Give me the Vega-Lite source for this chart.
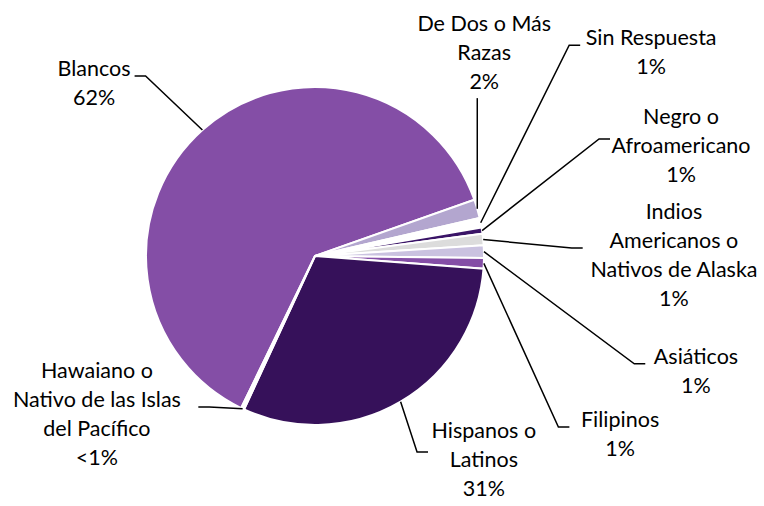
{
  "$schema": "https://vega.github.io/schema/vega-lite/v6.json",
  "width": 630,
  "height": 500,
  "autosize": {"type": "none"},
  "padding": {"left": 0, "top": 6, "right": 134, "bottom": 0},
  "background": "white",
  "config": {"view": {"stroke": null}},
  "data": {
    "values": [
      {"category": "Blancos", "value": 62.4},
      {"category": "De Dos o Más\nRazas", "value": 1.8},
      {"category": "Sin Respuesta", "value": 0.9},
      {"category": "Negro o\nAfroamericano", "value": 0.6},
      {"category": "Indios\nAmericanos o\nNativos de Alaska", "value": 1.1},
      {"category": "Asiáticos", "value": 1.2},
      {"category": "Filipinos", "value": 1.0},
      {"category": "Hispanos o\nLatinos", "value": 30.7},
      {"category": "Hawaiano o\nNativo de las Islas\ndel Pacífico", "value": 0.3}
    ]
  },
  "transform": [
    {"window": [{"op": "row_number", "as": "idx"}, {"op": "sum", "field": "value", "as": "cum"}], "frame": [null, 0]},
    {"joinaggregate": [{"op": "sum", "field": "value", "as": "total"}]},
    {"calculate": "datum.cum / datum.total", "as": "f1"},
    {"calculate": "(datum.cum - datum.value) / datum.total", "as": "f0"},
    {"calculate": "205.9 + 360 * (datum.f0 + datum.f1) / 2", "as": "mid"},
    {"calculate": "datum.value < 0.5 ? '<1%' : format(datum.value / datum.total, '.0%')", "as": "pct"},
    {"calculate": "datum.category + '\\n' + datum.pct", "as": "label"},
    {"calculate": "[307.9, 39.9, 58.9, 73.4, 90.0, 106.9, 120.4, 140.4, 233.9][datum.idx - 1]", "as": "la"},
    {"calculate": "[1.657, 1.561, 2.323, 2.260, 2.124, 2.356, 2.093, 1.567, 1.597][datum.idx - 1]", "as": "ld"},
    {"calculate": "datum.ld * sin(datum.la * PI / 180)", "as": "cx"},
    {"calculate": "datum.ld * cos(datum.la * PI / 180)", "as": "cy"},
    {"calculate": "split(datum.label, '\\n')", "as": "lines"},
    {"calculate": "length(datum.lines)", "as": "n"},
    {"calculate": "max(length(datum.lines[0]), length(datum.lines[1] || ''), length(datum.lines[2] || ''), length(datum.lines[3] || ''))", "as": "maxLen"},
    {"calculate": "datum.maxLen * 0.030", "as": "hw"},
    {"calculate": "datum.n * 0.0858", "as": "hh"},
    {"calculate": "datum.cy + datum.hh", "as": "ty"},
    {"calculate": "sin(datum.mid * PI / 180)", "as": "ex"},
    {"calculate": "cos(datum.mid * PI / 180)", "as": "ey"},
    {"calculate": "abs(datum.ex - datum.cx) < datum.hw", "as": "vert"},
    {"calculate": "datum.vert ? datum.ex : (datum.cx > datum.ex ? datum.cx - datum.hw - 0.03 : datum.cx + datum.hw + 0.03)", "as": "bx"},
    {"calculate": "datum.vert ? datum.cy - datum.hh - 0.006 : datum.cy + 0.047", "as": "by"},
    {"calculate": "datum.vert ? datum.ex : (datum.cx > datum.ex ? datum.bx - 0.065 : datum.bx + 0.065)", "as": "ax"},
    {"calculate": "datum.by", "as": "ay"}
  ],
  "layer": [
    {
      "mark": {"type": "arc", "outerRadius": 169, "stroke": "white", "strokeWidth": 2},
      "encoding": {
        "theta": {"field": "f0", "type": "quantitative", "stack": null, "scale": {"domain": [0, 1], "range": [3.59364, 9.87683]}},
        "theta2": {"field": "f1"},
        "color": {
          "field": "category",
          "type": "nominal",
          "legend": null,
          "scale": {
            "domain": ["Blancos", "De Dos o Más\nRazas", "Sin Respuesta", "Negro o\nAfroamericano", "Indios\nAmericanos o\nNativos de Alaska", "Asiáticos", "Filipinos", "Hispanos o\nLatinos", "Hawaiano o\nNativo de las Islas\ndel Pacífico"],
            "range": ["#844EA6", "#B3A6CF", "#FFFFFF", "#3A1467", "#DCDCDC", "#CAC2E0", "#844EA6", "#36115A", "#FFFFFF"]
          }
        }
      }
    },
    {
      "transform": [
        {"calculate": "[datum.ex, datum.ax, datum.bx]", "as": "px"},
        {"calculate": "[datum.ey, datum.ay, datum.by]", "as": "py"},
        {"calculate": "[0, 1, 2]", "as": "pi"},
        {"flatten": ["px", "py", "pi"]}
      ],
      "mark": {"type": "line", "color": "#000000", "strokeWidth": 1.5},
      "encoding": {
        "x": {"field": "px", "type": "quantitative", "axis": null, "scale": {"domain": [-1.86391, 1.86391], "nice": false, "zero": false}},
        "y": {"field": "py", "type": "quantitative", "axis": null, "scale": {"domain": [-1.47929, 1.47929], "nice": false, "zero": false}},
        "detail": {"field": "category", "type": "nominal"},
        "order": {"field": "pi", "type": "quantitative"}
      }
    },
    {
      "mark": {"type": "text", "align": "center", "baseline": "line-top", "lineBreak": "\n", "fontSize": 21.5, "lineHeight": 29, "font": "Lato", "color": "#000000"},
      "encoding": {
        "x": {"field": "cx", "type": "quantitative", "axis": null, "scale": {"domain": [-1.86391, 1.86391], "nice": false, "zero": false}},
        "y": {"field": "ty", "type": "quantitative", "axis": null, "scale": {"domain": [-1.47929, 1.47929], "nice": false, "zero": false}},
        "text": {"field": "label", "type": "nominal"}
      }
    }
  ]
}
